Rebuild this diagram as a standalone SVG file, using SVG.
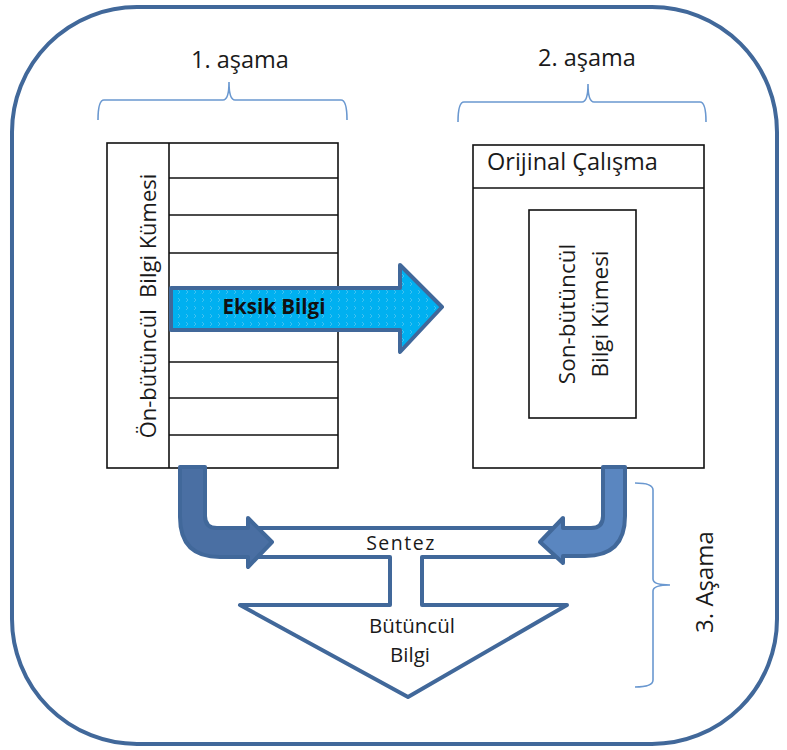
<svg xmlns="http://www.w3.org/2000/svg" width="787" height="750" viewBox="0 0 787 750">
<style>
.t{font-family:"Open Sans","Liberation Sans",sans-serif;fill:#1a1a1a}
.box{fill:#fff;stroke:#111;stroke-width:1.6}
.ln{stroke:#111;stroke-width:1.6}
.br{fill:none;stroke:#6a98d0;stroke-width:1.6}
.blue{stroke:#41689a;stroke-width:4;stroke-linejoin:round}
</style>
<defs>
<pattern id="chev" width="8" height="8" patternUnits="userSpaceOnUse">
<rect width="8" height="8" fill="#00b0f0"/>
<path d="M2,2 L4,4 L2,6" fill="none" stroke="#5cc8f0" stroke-width="0.7"/>
</pattern>
</defs>
<rect id="frame" x="12" y="7" width="765" height="737" rx="125" ry="125" fill="#fff" stroke="#41689a" stroke-width="4"/>
<g id="stage1">
<path class="br" d="M98,120 Q98,100 104,100 L223,100 Q229,100 229,82 Q229,100 235,100 L341,100 Q347,100 347,120"/>
<text class="t" x="240" y="68" font-size="23.5" text-anchor="middle">1. aşama</text>
</g>
<g id="stage2">
<path class="br" d="M458,122 Q458,102 464,102 L582,102 Q588,102 588,84 Q588,102 594,102 L700,102 Q706,102 706,122"/>
<text class="t" x="587" y="66" font-size="23.5" text-anchor="middle">2. aşama</text>
</g>
<g id="stage3">
<path class="br" d="M635,483 Q653,483 653,490 L653,579 Q653,585 670,585 Q653,585 653,591 L653,680 Q653,687 635,687"/>
<text class="t" font-size="24" text-anchor="middle" transform="translate(713,582) rotate(-90)">3. Aşama</text>
</g>
<g id="on-butuncul">
<rect class="box" x="107" y="143" width="231" height="325"/>
<line class="ln" x1="169" y1="143" x2="169" y2="468"/>
<line class="ln" x1="169" y1="178" x2="338" y2="178"/>
<line class="ln" x1="169" y1="215" x2="338" y2="215"/>
<line class="ln" x1="169" y1="253" x2="338" y2="253"/>
<line class="ln" x1="169" y1="362" x2="338" y2="362"/>
<line class="ln" x1="169" y1="398" x2="338" y2="398"/>
<line class="ln" x1="169" y1="435" x2="338" y2="435"/>
<text class="t" font-size="22" text-anchor="middle" transform="translate(156,306) rotate(-90)" xml:space="preserve">Ön-bütüncül  Bilgi Kümesi</text>
</g>
<g id="orijinal">
<rect class="box" x="473" y="145" width="231" height="323"/>
<line class="ln" x1="473" y1="188" x2="704" y2="188"/>
<text class="t" x="487" y="170" font-size="23.5">Orijinal Çalışma</text>
<rect class="box" x="529" y="210" width="107" height="208"/>
<text class="t" font-size="22.5" text-anchor="middle" transform="translate(575,314) rotate(-90)">Son-bütüncül</text>
<text class="t" font-size="22.5" text-anchor="middle" transform="translate(608,314) rotate(-90)">Bilgi Kümesi</text>
</g>
<g id="sentez">
<path class="blue" fill="#fff" d="M255,528 L563,528 L563,557 L422,557 L422,605 L567,605 L408,697 L240,605 L390,605 L390,557 L255,557 Z"/>
<text class="t" x="401" y="550" font-size="19.5" text-anchor="middle" letter-spacing="1.5">Sentez</text>
<text class="t" x="412" y="633" font-size="20.5" text-anchor="middle">Bütüncül</text>
<text class="t" x="410" y="662" font-size="20.5" text-anchor="middle">Bilgi</text>
</g>
<g id="connectors">
<path class="blue" fill="url(#chev)" d="M171,288 L400,288 L400,265 L442,307 L400,352 L400,330 L171,330 Z"/>
<text x="274" y="314" font-family="'Open Sans','Liberation Sans',sans-serif" font-size="20.5" font-weight="bold" fill="#111" text-anchor="middle">Eksik Bilgi</text>
<path class="blue" fill="#4a6fa3" d="M180,467 L205,467 L205,516 Q205,528 217,528 L248,528 L248,518 L272,542 L248,567 L248,557 L220,557 Q180,557 180,517 Z"/>
<path class="blue" fill="#5a86c0" d="M603,467 L625,467 L625,516 Q625,556 585,556 L563,556 L563,563 L540,542 L563,518 L563,528 L591,528 Q603,528 603,516 Z"/>
</g>
</svg>
